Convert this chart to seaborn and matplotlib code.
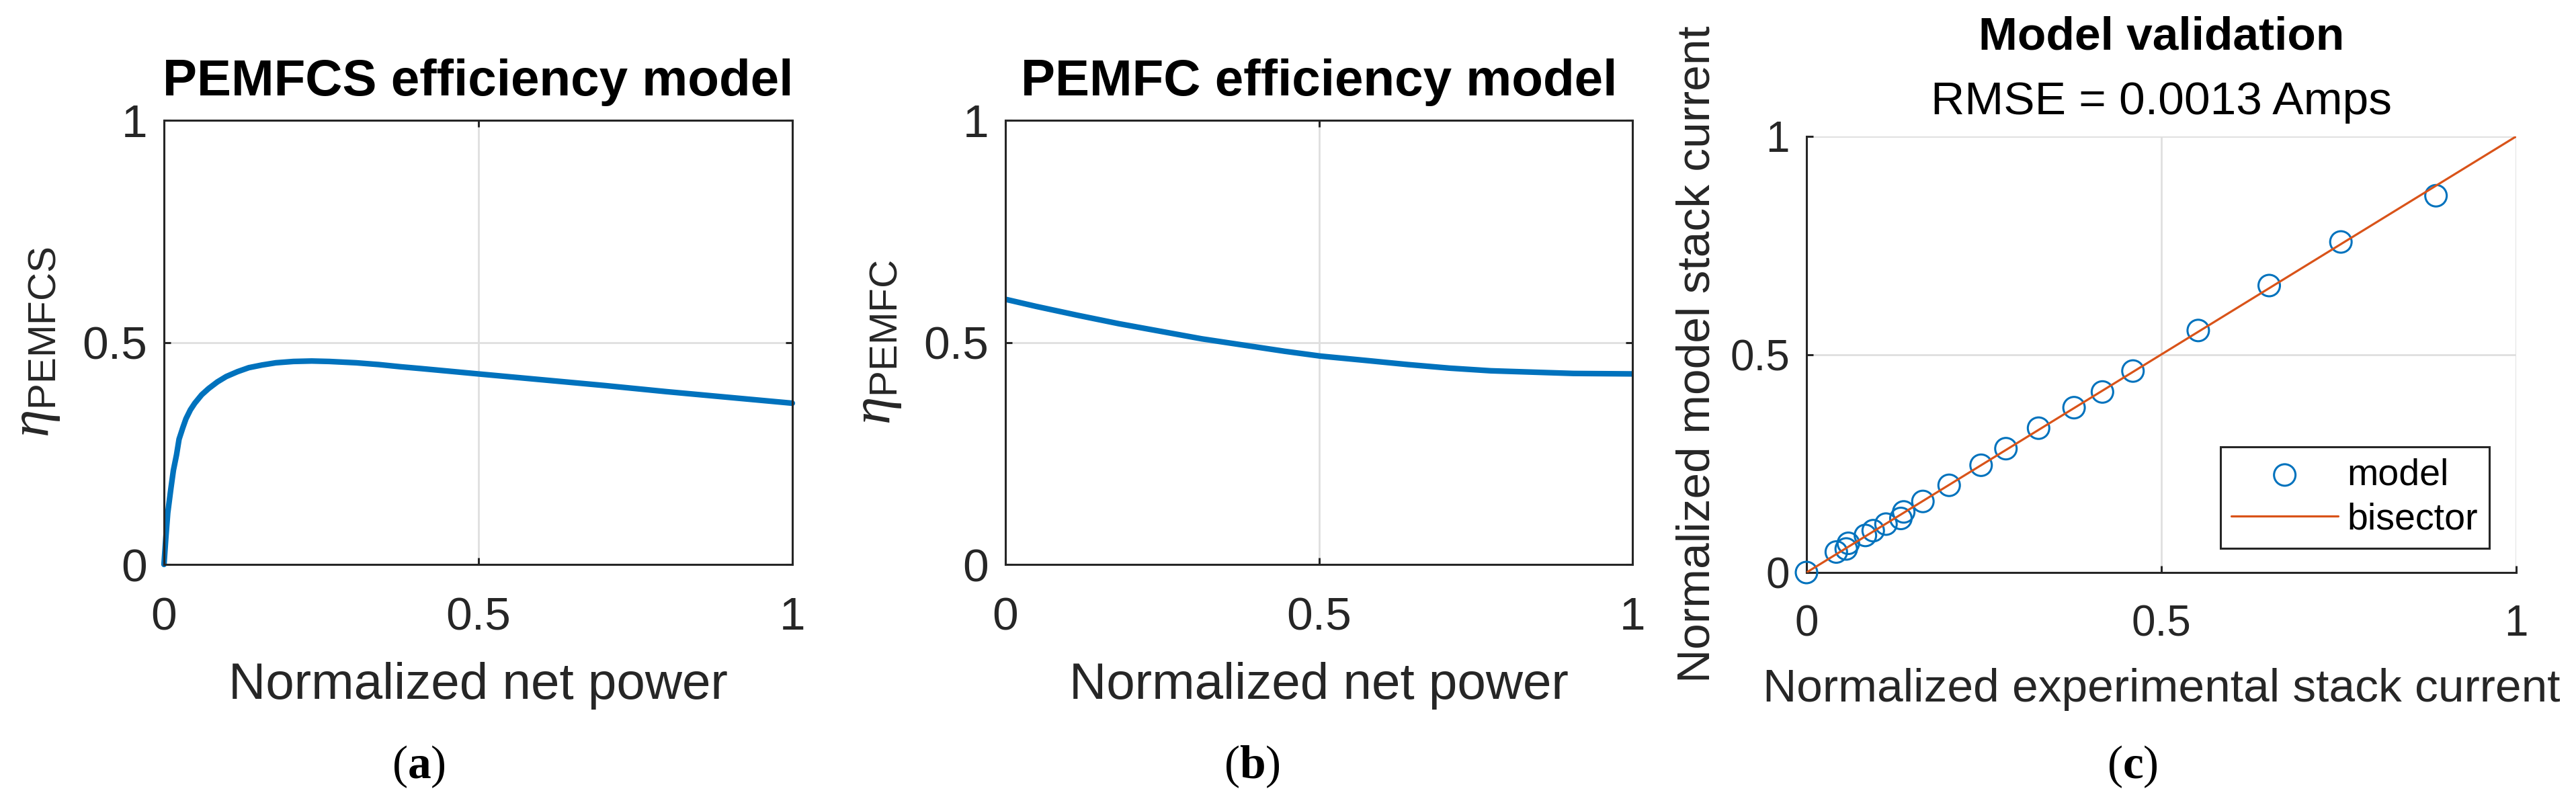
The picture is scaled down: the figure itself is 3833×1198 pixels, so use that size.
import matplotlib
matplotlib.use("Agg")
import matplotlib.pyplot as plt
import seaborn as sns
import pandas as pd

# ---------------- data ----------------
# (a) PEMFCS efficiency vs normalized net power
pa_power = [0, 0.003, 0.006, 0.011, 0.015, 0.020, 0.024, 0.030, 0.035, 0.042, 0.049,
            0.060, 0.071, 0.085, 0.099, 0.117, 0.135, 0.156, 0.178, 0.206, 0.235,
            0.263, 0.306, 0.342, 0.377, 0.409, 0.5, 0.6, 0.7, 0.8, 0.9, 1.0]
pa_eff = [0, 0.061, 0.116, 0.171, 0.212, 0.247, 0.282, 0.308, 0.328, 0.348, 0.363,
          0.382, 0.396, 0.411, 0.423, 0.434, 0.443, 0.449, 0.454, 0.457, 0.458,
          0.457, 0.454, 0.450, 0.445, 0.441, 0.429, 0.416, 0.403, 0.389, 0.376, 0.363]

# (b) PEMFC efficiency vs normalized net power
pb_power = [0, 0.049, 0.115, 0.181, 0.247, 0.313, 0.379, 0.445, 0.503, 0.577,
            0.642, 0.708, 0.774, 0.840, 0.906, 1.0]
pb_eff = [0.597, 0.581, 0.561, 0.542, 0.525, 0.508, 0.494, 0.480, 0.469, 0.459,
          0.450, 0.442, 0.436, 0.433, 0.430, 0.429]

# (c) model validation
pc_exp = [0.0, 0.042, 0.056, 0.059, 0.083, 0.094, 0.112, 0.133, 0.137, 0.164, 0.201,
          0.246, 0.281, 0.327, 0.377, 0.417, 0.460, 0.552, 0.652, 0.753, 0.887]
pc_model = [0.0, 0.047, 0.054, 0.067, 0.085, 0.096, 0.111, 0.124, 0.139, 0.163, 0.200,
            0.246, 0.284, 0.331, 0.378, 0.414, 0.462, 0.555, 0.658, 0.758, 0.864]
bisector = [0, 1]

ticks = [0, 0.5, 1]
tick_labels = ["0", "0.5", "1"]

titles = ["PEMFCS efficiency model", "PEMFC efficiency model"]
ylabels = [r"$\eta_{\mathrm{PEMFCS}}$", r"$\eta_{\mathrm{PEMFC}}$"]
xlabel_ab = "Normalized net power"
title_c = "Model validation"
subtitle_c = "RMSE = 0.0013 Amps"
xlabel_c = "Normalized experimental stack current"
ylabel_c = "Normalized model stack current"
legend_labels = ["model", "bisector"]
captions = ["a", "b", "c"]

# ---------------- style ----------------
sns.set_theme(style="white")
plt.rcParams["font.family"] = ["Liberation Sans", "DejaVu Sans"]
plt.rcParams["mathtext.fontset"] = "custom"
plt.rcParams["mathtext.rm"] = "Liberation Sans"
plt.rcParams["mathtext.it"] = "Liberation Serif:italic"
plt.rcParams["mathtext.bf"] = "Liberation Serif:bold"

BLUE = "#0072BD"
ORANGE = "#D95319"
DARK = "#262626"
GRID = "#dfdfdf"

DPI = 100
fig = plt.figure(figsize=(3833 / DPI, 1198 / DPI), dpi=DPI)
fig.patch.set_facecolor("white")

W, H = 3833, 1198


def axes_px(left, top, right, bottom):
    return fig.add_axes([left / W, (H - bottom) / H, (right - left) / W, (bottom - top) / H])


def style_axes(ax, labelsize, box=True):
    ax.set_xlim(0, 1)
    ax.set_ylim(0, 1)
    ax.set_xticks(ticks)
    ax.set_xticklabels(tick_labels)
    ax.set_yticks(ticks)
    ax.set_yticklabels(tick_labels)
    ax.set_axisbelow(True)
    ax.grid(True, color=GRID, lw=2.0)
    for s in ax.spines.values():
        s.set_color(DARK)
        s.set_linewidth(2.2)
    if not box:
        ax.spines["top"].set_visible(False)
        ax.spines["right"].set_visible(False)
    ax.tick_params(axis="both", direction="in", length=7, width=2.2, color=DARK,
                   labelcolor=DARK, labelsize=labelsize,
                   top=box, right=box, bottom=True, left=True)
    ax.tick_params(axis="x", pad=34)
    ax.tick_params(axis="y", pad=18)


# ---------------- panels a and b ----------------
ax_a = axes_px(244, 179, 1179, 840)
ax_b = axes_px(1496, 179, 2429, 840)

for ax, xs, ys, title, ylab in [(ax_a, pa_power, pa_eff, titles[0], ylabels[0]),
                                (ax_b, pb_power, pb_eff, titles[1], ylabels[1])]:
    df = pd.DataFrame({"power": xs, "eff": ys})
    sns.lineplot(data=df, x="power", y="eff", ax=ax, color=BLUE, lw=6.0,
                 sort=False, estimator=None)
    style_axes(ax, 50, box=True)
    ax.set_title(title, fontsize=55, fontweight="bold", color="black", pad=27)
    ax.set_xlabel(xlabel_ab, fontsize=55, color=DARK)
    ax.xaxis.set_label_coords(0.5, -0.219)
    ax.set_ylabel(ylab, fontsize=60, color=DARK)
    ax.yaxis.set_label_coords(-0.163, 0.5)

for line in ax_a.lines:
    line.set_clip_on(False)

# ---------------- panel c ----------------
ax_c = axes_px(2688, 203, 3744, 852)
dfc = pd.DataFrame({"exp": pc_exp, "model": pc_model})
sns.scatterplot(data=dfc, x="exp", y="model", ax=ax_c, marker="o", s=530,
                facecolors="none", edgecolor=BLUE, linewidth=2.2,
                label=legend_labels[0], clip_on=False, zorder=3)
sns.lineplot(x=bisector, y=bisector, ax=ax_c, color=ORANGE, lw=2.3,
             label=legend_labels[1], zorder=4)
style_axes(ax_c, 46, box=False)

ax_c.text(0.5, 1 + (203 - 74) / 649, title_c, transform=ax_c.transAxes,
          ha="center", va="baseline", fontsize=50, fontweight="bold", color="black")
ax_c.text(0.5, 1 + (203 - 170) / 649, subtitle_c, transform=ax_c.transAxes,
          ha="center", va="baseline", fontsize=50, color="black")
ax_c.set_xlabel(xlabel_c, fontsize=50, color=DARK)
ax_c.xaxis.set_label_coords(0.5, -0.219)
ax_c.set_ylabel(ylabel_c, fontsize=50, color=DARK)
ax_c.yaxis.set_label_coords(-0.124, 0.5)

handles, labels = ax_c.get_legend_handles_labels()
leg = ax_c.legend(handles, labels, loc="lower right",
                  bbox_to_anchor=((3704 - 2688) / 1056, (852 - 816) / 649),
                  borderaxespad=0, fontsize=40, handlelength=2.85,
                  handletextpad=0.25, borderpad=0.3, labelspacing=0.25,
                  fancybox=False, framealpha=1, edgecolor=DARK)
leg.get_frame().set_linewidth(2.2)
for t in leg.get_texts():
    t.set_color("black")

# ---------------- sub-captions ----------------
for cap, cx in zip(captions, [623, 1863, 3173]):
    fig.text(cx / W, (H - 1158) / H, "(" + r"$\mathbf{" + cap + "}$" + ")",
             ha="center", va="baseline", fontsize=50, family="Liberation Serif",
             color="black")

fig.savefig("out.png", dpi=DPI, facecolor="white")
